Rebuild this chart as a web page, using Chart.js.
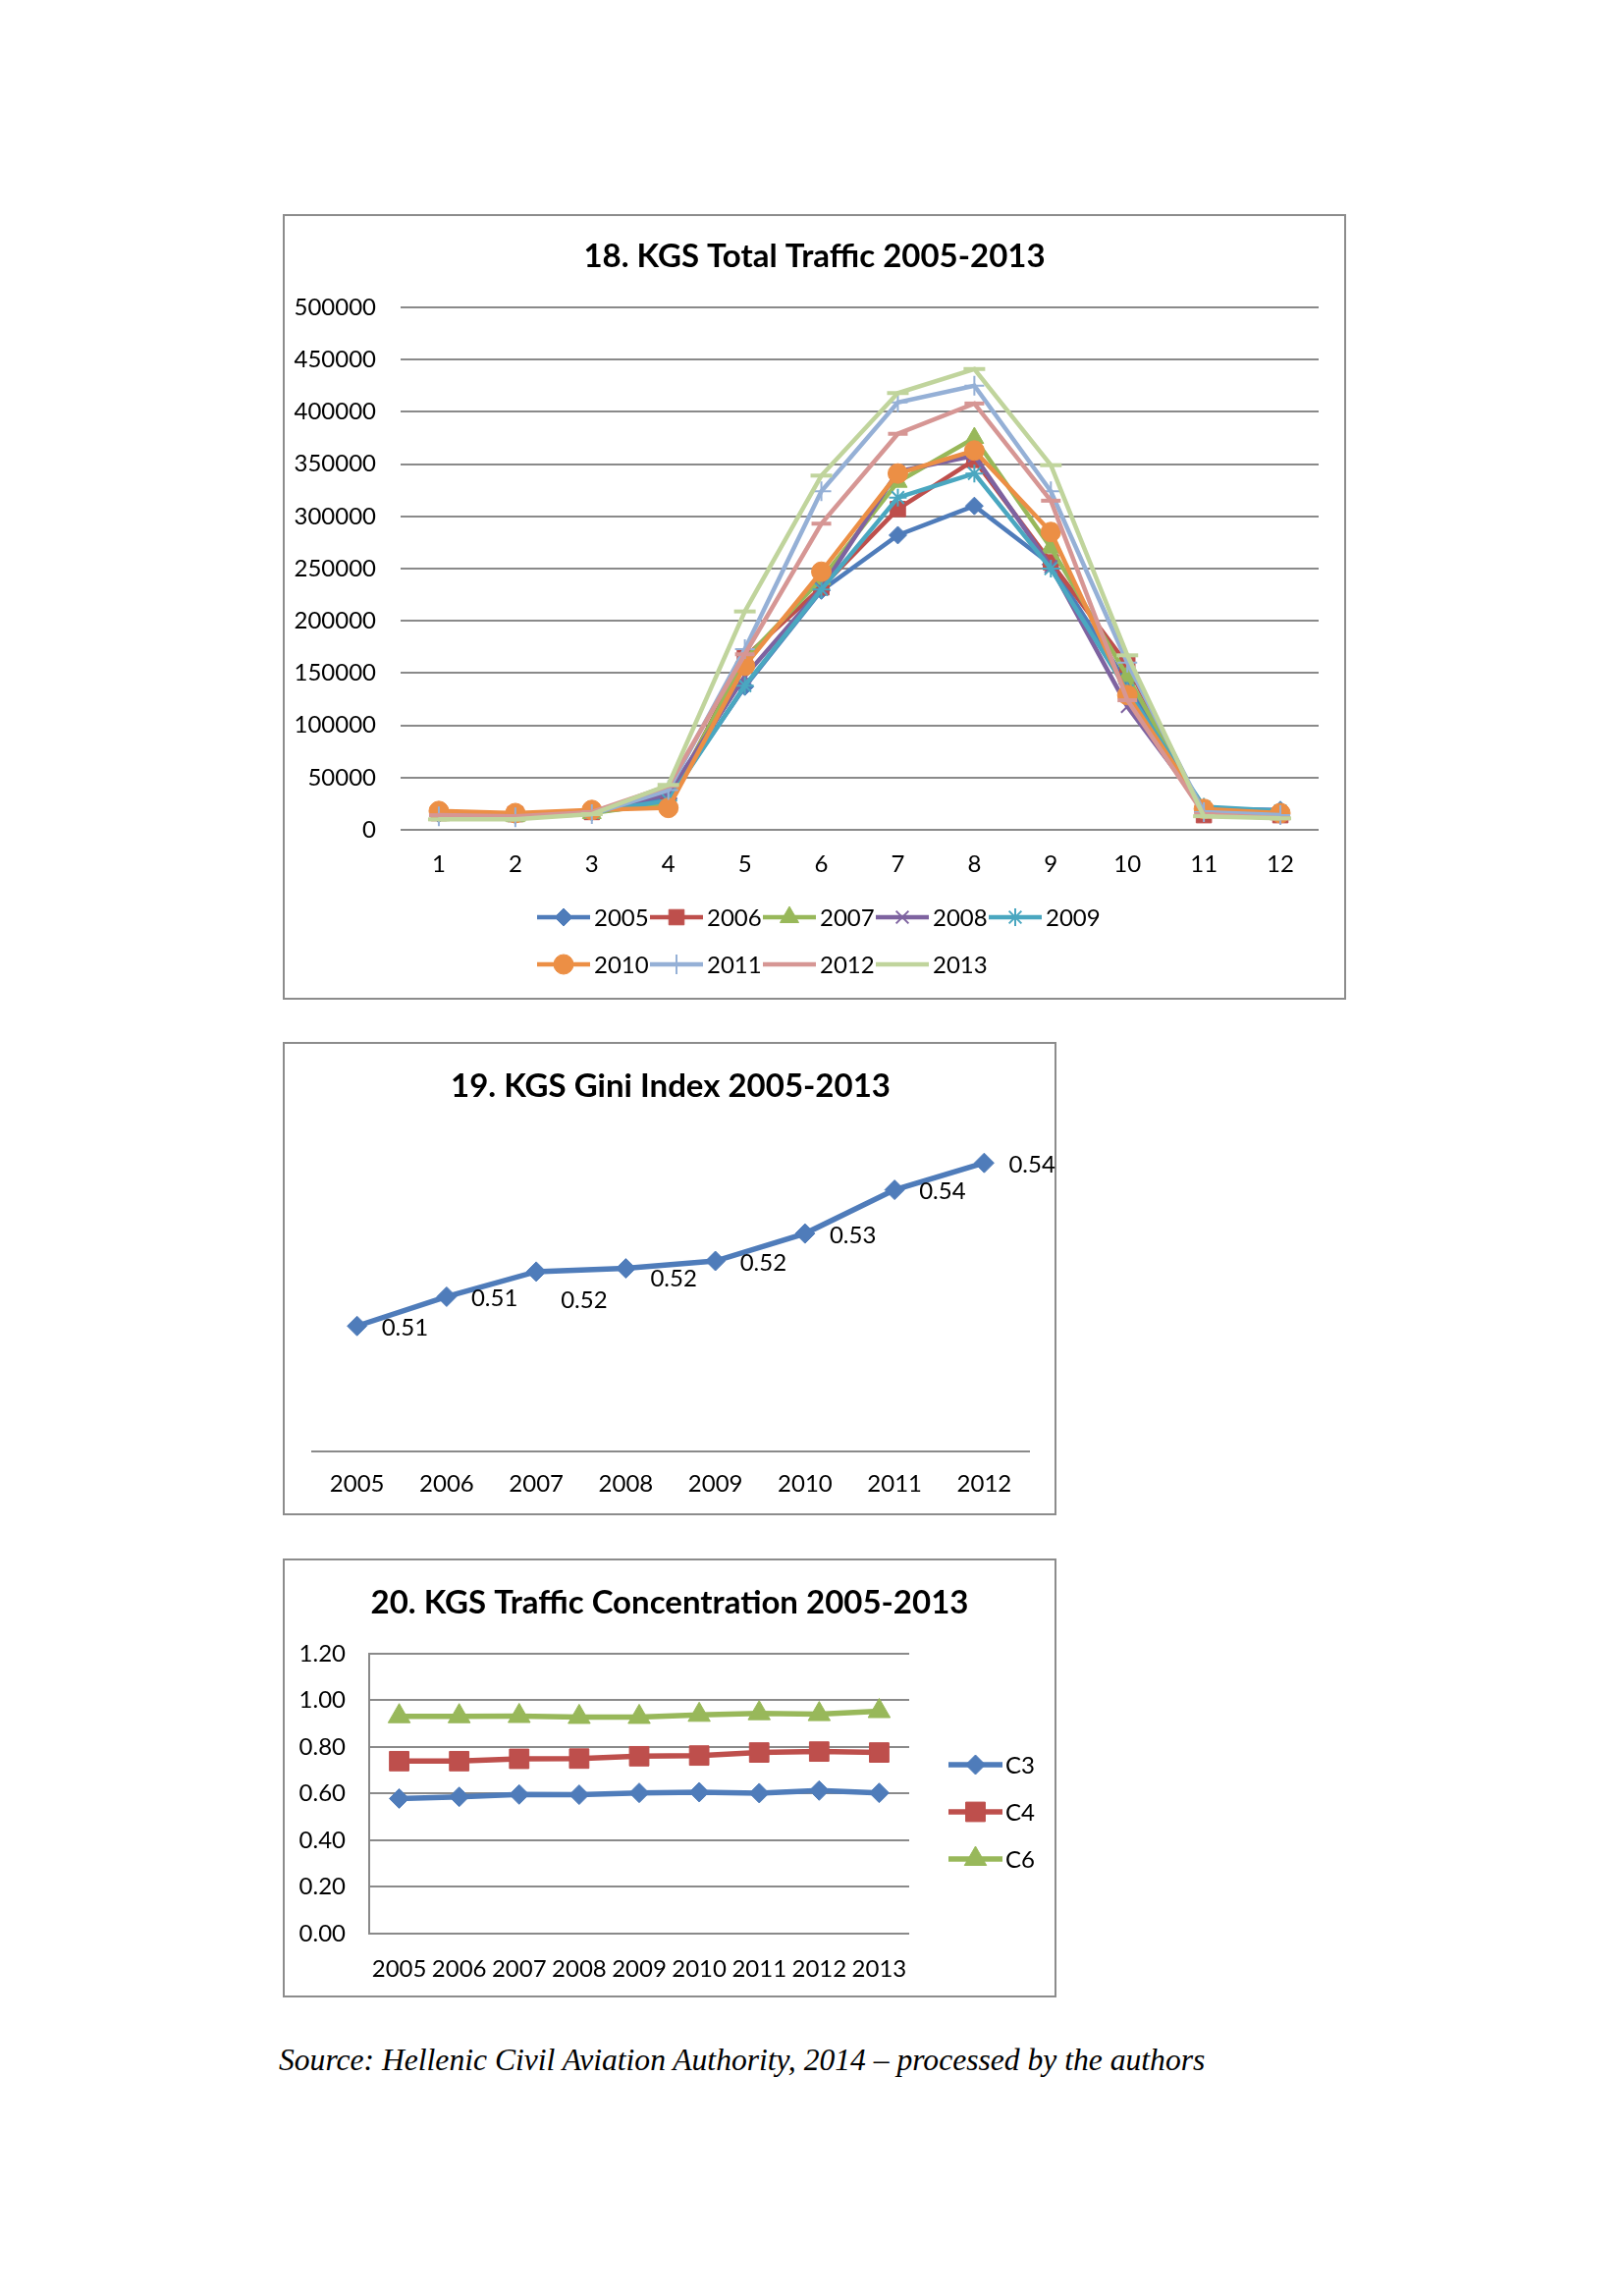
<!DOCTYPE html>
<html>
<head>
<meta charset="utf-8">
<title>KGS charts</title>
<script src="https://cdn.jsdelivr.net/npm/chart.js@4.4.1/dist/chart.umd.min.js"></script>
<style>
  body { margin: 0; background: #fff; width: 1653px; height: 2338px; position: relative; font-family: Lato, sans-serif; }
  .frame { position: absolute; border: 2px solid #8c8c8c; box-sizing: border-box; }
  canvas { position: absolute; }
  #source { position: absolute; left: 284px; top: 2080px; font-family: "Liberation Serif", serif; font-style: italic; font-size: 31.6px; color: #000; white-space: nowrap; }
</style>
</head>
<body>
<div class="frame" style="left:288px;top:218px;width:1083px;height:800px"></div>
<canvas id="c18" width="1083" height="800" style="left:288px;top:218px"></canvas>

<div class="frame" style="left:288px;top:1061px;width:788px;height:482px"></div>
<canvas id="c19" width="788" height="482" style="left:288px;top:1061px"></canvas>

<div class="frame" style="left:288px;top:1587px;width:788px;height:447px"></div>
<canvas id="c20" width="788" height="447" style="left:288px;top:1587px"></canvas>

<div id="source">Source: Hellenic Civil Aviation Authority, 2014 – processed by the authors</div>

<script>
// ---- chart 18: monthly traffic per year
const months = ['1', '2', '3', '4', '5', '6', '7', '8', '9', '10', '11', '12'];
const years = ['2005', '2006', '2007', '2008', '2009', '2010', '2011', '2012', '2013'];
const traffic2005 = [15000, 14000, 17000, 30000, 137000, 229000, 282000, 310000, 254000, 140000, 20000, 19000];
const traffic2006 = [16000, 15000, 17000, 25000, 165000, 232000, 307000, 354000, 256000, 158000, 14000, 14000];
const traffic2007 = [14000, 13000, 16000, 26000, 163000, 240000, 333000, 375000, 270000, 147000, 18000, 15000];
const traffic2008 = [16000, 15000, 18000, 34000, 147000, 231000, 343000, 358000, 252000, 118000, 20000, 16000];
const traffic2009 = [15000, 14000, 17000, 28000, 138000, 230000, 318000, 341000, 250000, 133000, 22000, 18000];
const traffic2010 = [18000, 16000, 19000, 21000, 157000, 247000, 341000, 363000, 285000, 129000, 20000, 16000];
const traffic2011 = [13000, 12000, 15000, 38000, 173000, 324000, 409000, 425000, 324000, 160000, 17000, 14000];
const traffic2012 = [14000, 13000, 17000, 42000, 168000, 293000, 379000, 408000, 315000, 124000, 15000, 11000];
const traffic2013 = [10000, 10000, 15000, 43000, 209000, 339000, 418000, 441000, 349000, 167000, 13000, 11000];

// ---- chart 19: gini index
const giniYears = ['2005', '2006', '2007', '2008', '2009', '2010', '2011', '2012'];
const giniValues = [0.507, 0.5133, 0.5187, 0.5194, 0.5210, 0.5269, 0.5363, 0.5421];

// ---- chart 20: concentration ratios
const concYears = ['2005', '2006', '2007', '2008', '2009', '2010', '2011', '2012', '2013'];
const c3 = [0.579, 0.586, 0.596, 0.595, 0.603, 0.606, 0.602, 0.613, 0.603];
const c4 = [0.739, 0.739, 0.749, 0.750, 0.760, 0.763, 0.776, 0.780, 0.776];
const c6 = [0.931, 0.931, 0.932, 0.928, 0.928, 0.937, 0.944, 0.940, 0.953];
const concTicks = [0, 0.2, 0.4, 0.6, 0.8, 1.0, 1.2];

const trafficSeries = [traffic2005, traffic2006, traffic2007, traffic2008, traffic2009,
                       traffic2010, traffic2011, traffic2012, traffic2013];
const yearColors = ['#4F7CBA', '#BE4F4C', '#98B85A', '#7E63A0', '#4AA7C0',
                    '#EC8F45', '#95B0D6', '#D69694', '#C0D49C'];
const yearMarkers = ['rectRot', 'rect', 'triangle', 'crossRot', 'star',
                     'circle', 'cross', 'line', 'line'];
const yearRadius = [9, 11, 11, 9, 9, 10, 10, 10, 11];

const tickFont = { family: 'Lato', size: 24 };
const titleFont = { family: 'Lato', size: 33, weight: 'bold' };
const gridGrey = '#8a8a8a';

// empty right-hand axis that only reserves room, so the title stays centred on the frame
function spacer(width) {
    return {
        type: 'linear',
        position: 'right',
        grid: { display: false },
        border: { display: false },
        ticks: { display: false },
        afterFit: s => { s.width = width; }
    };
}

// draws a legend entry: short line with marker in the middle, then the label
const lineLegend = {
    id: 'lineLegend',
    afterDraw(chart, args, opts) {
        const ctx = chart.ctx;
        ctx.save();
        chart.data.datasets.forEach((ds, i) => {
            const row = Math.floor(i / opts.perRow);
            const col = i % opts.perRow;
            const x = opts.x + col * opts.dx;
            const y = opts.y + row * opts.dy;
            ctx.strokeStyle = ds.borderColor;
            ctx.fillStyle = ds.backgroundColor;
            ctx.lineWidth = ds.borderWidth;
            ctx.beginPath();
            ctx.moveTo(x, y);
            ctx.lineTo(x + opts.lineLength, y);
            ctx.stroke();
            ctx.lineWidth = ds.pointBorderWidth;
            Chart.helpers.drawPoint(ctx, {
                pointStyle: ds.pointStyle,
                radius: ds.pointRadius,
                borderWidth: ds.pointBorderWidth,
                rotation: 0
            }, x + opts.lineLength / 2, y);
            ctx.fillStyle = '#000';
            ctx.font = tickFont.size + 'px ' + tickFont.family;
            ctx.textAlign = 'left';
            ctx.textBaseline = 'middle';
            ctx.fillText(ds.label, x + opts.lineLength + opts.gap, y + 1);
        });
        ctx.restore();
    }
};

// value labels to the right of each point (chart 19)
const valueLabels = {
    id: 'valueLabels',
    afterDatasetsDraw(chart, args, opts) {
        const ctx = chart.ctx;
        const meta = chart.getDatasetMeta(0);
        const values = chart.data.datasets[0].data;
        ctx.save();
        ctx.font = tickFont.size + 'px ' + tickFont.family;
        ctx.fillStyle = '#000';
        ctx.textAlign = 'left';
        ctx.textBaseline = 'middle';
        meta.data.forEach((pt, i) => {
            const shift = opts.shift[i] || 0;
            ctx.fillText(values[i].toFixed(2), pt.x + opts.dx, pt.y + opts.dy + shift);
        });
        ctx.restore();
    }
};

new Chart(document.getElementById('c18'), {
    type: 'line',
    data: {
        labels: months,
        datasets: years.map((y, i) => ({
            label: y,
            data: trafficSeries[i],
            borderColor: yearColors[i],
            backgroundColor: yearColors[i],
            borderWidth: 4.5,
            pointStyle: yearMarkers[i],
            pointRadius: yearRadius[i],
            pointBorderWidth: (yearMarkers[i] === 'crossRot' || yearMarkers[i] === 'star' || yearMarkers[i] === 'cross') ? 2 : (yearMarkers[i] === 'line' ? 4 : 1),
            tension: 0,
            order: years.length - i
        }))
    },
    options: {
        responsive: false,
        animation: false,
        layout: { padding: 0 },
        plugins: {
            legend: { display: false },
            tooltip: { enabled: false },
            title: {
                display: true,
                text: '18. KGS Total Traffic 2005-2013',
                font: titleFont,
                color: '#000',
                padding: { top: 24, bottom: 31.4 }
            },
            lineLegend: { x: 259, y: 716, dx: 115, dy: 48, perRow: 5, lineLength: 54, gap: 4 }
        },
        scales: {
            x: {
                offset: true,
                grid: { display: false },
                border: { display: false },
                ticks: { font: tickFont, color: '#000', padding: 13, autoSkip: false, maxRotation: 0 },
                afterFit: s => { s.height = 173; }
            },
            y: {
                min: 0,
                max: 500000,
                ticks: { stepSize: 50000, font: tickFont, color: '#000', padding: 25, callback: v => String(v) },
                grid: { color: gridGrey, lineWidth: 2, drawTicks: false },
                border: { display: false },
                afterFit: s => { s.width = 120; }
            },
            pad: spacer(28)
        }
    },
    plugins: [lineLegend]
});

new Chart(document.getElementById('c19'), {
    type: 'line',
    data: {
        labels: giniYears,
        datasets: [{
            label: 'Gini',
            data: giniValues,
            borderColor: '#4F7CBA',
            backgroundColor: '#4F7CBA',
            borderWidth: 5.5,
            pointStyle: 'rectRot',
            pointRadius: 10,
            pointBorderWidth: 1,
            tension: 0
        }]
    },
    options: {
        responsive: false,
        animation: false,
        layout: { padding: { left: 30, right: 28, top: 0, bottom: 0 } },
        plugins: {
            legend: { display: false },
            tooltip: { enabled: false },
            title: {
                display: true,
                text: '19. KGS Gini Index 2005-2013',
                font: titleFont,
                color: '#000',
                padding: { top: 25.5, bottom: 20.7 }
            },
            valueLabels: { dx: 25, dy: 2, shift: [0, 0, 27, 9, 0, 0, 0, 0] }
        },
        scales: {
            x: {
                offset: true,
                grid: { display: false },
                border: { display: true, color: gridGrey, width: 2 },
                ticks: { font: tickFont, color: '#000', padding: 11, autoSkip: false, maxRotation: 0 },
                afterFit: s => { s.height = 65; }
            },
            y: { display: false, min: 0.48, max: 0.55 }
        }
    },
    plugins: [valueLabels]
});

new Chart(document.getElementById('c20'), {
    type: 'line',
    data: {
        labels: concYears,
        datasets: [
            { label: 'C3', data: c3, borderColor: '#4F7CBA', backgroundColor: '#4F7CBA', borderWidth: 5.5,
              pointStyle: 'rectRot', pointRadius: 10, pointBorderWidth: 1, tension: 0, order: 3 },
            { label: 'C4', data: c4, borderColor: '#BE4F4C', backgroundColor: '#BE4F4C', borderWidth: 5.5,
              pointStyle: 'rect', pointRadius: 14, pointBorderWidth: 1, tension: 0, order: 2 },
            { label: 'C6', data: c6, borderColor: '#98B85A', backgroundColor: '#98B85A', borderWidth: 5.5,
              pointStyle: 'triangle', pointRadius: 13, pointBorderWidth: 1, tension: 0, order: 1 }
        ]
    },
    options: {
        responsive: false,
        animation: false,
        layout: { padding: 0 },
        plugins: {
            legend: { display: false },
            tooltip: { enabled: false },
            title: {
                display: true,
                text: '20. KGS Traffic Concentration 2005-2013',
                font: titleFont,
                color: '#000',
                padding: { top: 26, bottom: 31.2 }
            },
            lineLegend: { x: 678, y: 210, dx: 0, dy: 48, perRow: 1, lineLength: 55, gap: 3 }
        },
        scales: {
            x: {
                offset: true,
                grid: { display: false },
                border: { display: false },
                ticks: { font: tickFont, color: '#000', padding: 14, autoSkip: false, maxRotation: 0 },
                afterFit: s => { s.height = 65; }
            },
            y: {
                min: 0,
                max: 1.2,
                afterBuildTicks: s => { s.ticks = concTicks.map(v => ({ value: v })); },
                ticks: { font: tickFont, color: '#000', padding: 24, callback: v => Number(v).toFixed(2) },
                grid: { color: gridGrey, lineWidth: 2, drawTicks: false },
                border: { display: true, color: gridGrey, width: 2 },
                afterFit: s => { s.width = 88; }
            },
            pad: spacer(150)
        }
    },
    plugins: [lineLegend]
});
</script>
</body>
</html>
